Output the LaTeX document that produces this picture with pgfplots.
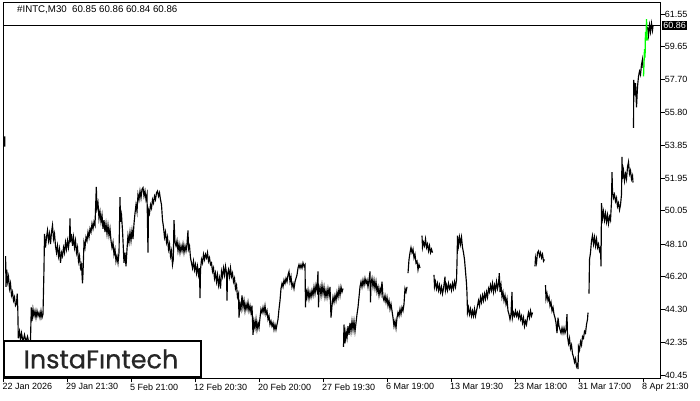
\documentclass[border=0pt]{standalone}
\usepackage{pgfplots}
\pgfplotsset{compat=1.18}
\usepackage{fontspec}
\setmainfont{Liberation Sans}
\newfontfamily\logofont[FakeBold=0.7]{Poppins}
\begin{document}
\begin{tikzpicture}[x=1pt,y=1pt]
\useasboundingbox (0,0) rectangle (700,400);
\begin{axis}[
  at={(3pt,21.7pt)}, anchor=south west,
  scale only axis, width=657.7pt, height=376.3pt,
  xmin=3, xmax=660.7, ymin=40.257, ymax=62.25,
  axis line style={black, line width=0.8pt},
  clip=true,
  tick align=outside, major tick length=4pt,
  tick style={black, line width=0.8pt},
  xtick pos=bottom, ytick pos=right,
  yticklabel pos=right,
  xtick={3.3,67,131,195,259,323,387,451,515,579,643},
  xticklabels={22 Jan 2026,29 Jan 21:30,5 Feb 21:00,12 Feb 20:30,20 Feb 20:00,27 Feb 19:30,6 Mar 19:00,13 Mar 19:30,23 Mar 18:00,31 Mar 17:00,8 Apr 21:30},
  ytick={40.45,42.35,44.30,46.20,48.10,50.05,51.95,53.85,55.80,57.70,59.65,61.55},
  yticklabels={40.45,42.35,44.30,46.20,48.10,50.05,51.95,53.85,55.80,57.70,59.65,61.55},
  xticklabel style={anchor=north west, inner sep=0pt, font=\fontsize{9}{10}\selectfont, xshift=-1pt, yshift=-1pt},
  yticklabel style={anchor=west, inner sep=0pt, font=\fontsize{9}{10}\selectfont, xshift=0pt},
  unbounded coords=jump,
]
\addplot[black, line width=0.7pt, forget plot] coordinates {(3,60.86) (660.7,60.86)};
\addplot[black, line width=1.15pt, mark=none] table {
x y
4.8 54.4
4.8 53.8
nan nan
5.6 47.4
6 45.6
6.8 46.6
7.5 45.9
8.5 46.2
9.5 45.5
10.5 45.8
11.5 45.1
12.5 45.3
13.5 44.8
14.5 45.0
15.5 44.5
16.5 44.6
17.2 45.2
17.8 44.3
18.3 42.6
19.5 43.0
20.5 42.5
21.5 42.9
23 42.4
24.5 42.8
26 42.4
27.5 42.7
29 42.3
30.5 42.5
31.3 44.4
32 43.6
33 44.3
34 43.9
35 44.2
36 43.8
37 44.2
38 43.9
39 44.1
40 43.8
41 44.2
42 43.8
43 44.0
44 46.7
44.5 48.7
45.5 47.9
46.5 48.5
47.5 48.9
48.5 48.3
49.5 48.7
50.5 48.1
51.5 48.8
52.5 49.2
53.5 48.4
54.5 48.7
55.5 48.0
56.5 47.6
57.5 48.0
58.5 47.4
59.5 47.8
60.5 47.0
61.5 47.6
62.5 47.4
63.5 47.9
64.5 47.6
65.5 48.2
66.5 47.8
67.5 48.3
68.5 47.9
69.5 48.4
70 49.6
70.5 48.2
71.5 48.7
72.5 48.0
73.5 48.5
74.5 47.9
75.5 48.3
76.5 47.6
77.5 47.9
78.5 47.1
79.5 47.4
80.5 46.7
81.5 46.9
82.5 45.8
83 46.4
84 48.2
85 47.9
86 48.5
87 48.3
88 48.8
89 48.5
90 49.0
91 48.8
92 49.3
93 49.0
94 49.4
95 49.2
96.3 51.45
97 50.2
98 50.5
99 49.6
100 50.0
101 49.4
102 49.8
103 49.0
104 49.5
105 48.8
106 49.3
107 48.7
108 49.2
109 48.6
110 49.0
111 48.3
112 47.9
113 48.2
114 47.5
115 47.8
116 47.1
117 47.4
118 47.0
119 47.6
120 50.85
120.5 49.4
121.5 49.8
122.5 48.9
123 48.3
124 47.0
125 47.6
126 46.8
127 47.8
128 48.6
129 48.2
130 48.8
131 48.3
132 48.9
133 48.4
134 49.3
135 49.9
136 50.4
137 50.0
138 51.0
139 50.7
140 51.2
141 50.8
142 51.3
143 51.4
144 50.9
145 51.2
146 50.7
147 51.0
148 47.6
148.5 50.1
149.5 49.9
150.5 50.4
151.5 50.2
152.5 50.7
153.5 50.5
154.5 50.9
155.5 50.7
156.5 51.1
157.5 51.2
158.5 50.9
159.5 51.1
160.5 50.7
161.5 50.4
162.5 49.5
163.5 49.1
164.5 48.5
165.5 48.8
166.5 48.2
167.5 48.5
168.5 47.8
169.5 48.1
170.5 47.4
171.5 47.7
172.5 46.9
173.3 47.2
174 49.5
175 48.2
176 48.0
177 48.3
178 47.7
179 48.1
180 47.6
181 48.0
182 47.7
183 48.1
184 47.6
185 48.0
186 47.7
187 48.1
188 48.9
188.5 47.8
189.5 48.0
190.5 47.3
191.5 47.0
192.5 46.7
193.5 47.1
194.5 46.6
195.5 46.9
196.5 46.4
197.5 46.8
198.5 46.3
199.5 46.7
200 44.95
200.5 46.6
201.5 47.2
202.5 47.0
203.5 47.5
204.5 47.2
205.5 47.5
206.5 47.3
207.5 47.6
208.5 47.1
209.5 47.3
210.5 46.9
211.5 47.0
212.5 46.5
213.5 46.7
214.5 46.1
215.5 46.4
216.5 45.9
217.5 46.3
218.5 45.7
219.5 46.1
220.5 45.5
221.5 46.5
222.5 46.2
223.5 46.7
224.5 46.3
225.5 46.8
226.5 46.4
227 44.8
227.5 46.3
228.5 46.6
229.5 46.2
230.5 46.7
231.5 46.2
232.5 46.4
233.5 45.9
234.5 46.1
235.5 45.5
236.5 45.7
237.5 45.0
238.5 45.2
239 43.8
240 44.6
241 44.3
242 45.1
243 44.4
244 44.8
245 44.2
246 44.6
247 44.3
248 44.7
249 44.2
250 44.5
251 44.1
252 44.5
253 42.8
254 43.6
255 43.2
256 43.7
257 43.1
258 43.5
259 43.2
260 43.8
261 44.3
262 44.1
263 44.4
264 44.1
265 44.5
266 44.0
267 44.2
268 43.7
269 43.9
270 43.4
271 43.6
272 43.3
273 43.5
274 43.1
275 43.4
276 43.1
277 43.4
278 43.7
279 44.3
280 44.8
281 45.5
282 45.8
283 45.6
284 46.0
285 45.8
286 46.1
287 45.9
288 46.3
289 46.5
290 45.9
291 46.2
292 45.6
293 45.8
294 45.5
295 45.9
296 46.1
297 46.3
298 46.7
299 46.9
300 46.7
301 46.9
302 46.7
303 47.0
304 46.8
305 46.9
305.5 44.4
306 45.5
307 45.0
308 45.4
309 44.9
310 45.3
311 45.0
312 45.4
313 45.1
314 45.6
315 45.2
316 45.7
317 45.4
318 46.5
318.5 44.4
319 45.3
320 45.6
321 45.1
322 45.7
323 45.2
324 45.6
325 45.0
326 45.4
327 45.0
328 45.5
329 45.1
330 45.6
331 43.8
332 44.5
333 45.0
334 44.7
335 45.1
336 44.8
337 45.3
338 45.0
339 45.5
340 45.1
341 45.6
342 45.3
343 45.5
nan nan
343.5 42.1
344 43.4
345 42.3
346 43.0
347 42.6
348 43.3
349 42.8
350 43.5
351 43.0
352 43.6
353 43.1
354 43.6
355 43.0
356 43.5
357 44.0
358 44.4
359 45.0
360 45.6
361 45.9
362 45.6
363 46.0
364 45.7
365 46.1
366 45.8
367 46.0
368 45.6
369 46.0
370 46.5
370.5 44.7
371 45.8
372 46.1
373 45.6
374 46.0
375 45.5
376 45.9
377 45.3
378 45.6
379 45.1
380 45.5
381 45.2
382 45.9
383 45.0
384 44.8
385 45.1
386 44.7
387 45.0
388 44.5
389 44.8
390 44.3
391 44.6
392 44.2
393 43.8
394 43.3
395 43.6
396 43.2
397 43.8
398 44.1
399 43.9
400 44.3
401 44.0
402 44.4
403 44.2
404 44.6
405 45.5
406 45.3
407 45.6
nan nan
408 46.4
409 47.2
410 47.6
411 47.9
412 47.6
413 47.8
414 47.3
415 47.5
416 47.0
417 47.1
418 46.6
419 46.9
420 46.7
nan nan
422 48.6
422.5 47.9
423.5 48.2
424.5 48.0
425.5 48.4
426.5 47.9
427.5 48.1
428.5 47.7
429.5 48.0
430.5 47.6
431.5 47.8
432.5 47.6
nan nan
434 46.3
434.5 45.6
435.5 45.9
436.5 45.5
437.5 45.8
438.5 45.4
439.5 45.7
440.5 45.3
441.5 45.6
442.5 45.2
443.5 45.5
445 46.2
445.5 45.4
446.5 45.7
447.5 45.4
448.5 45.8
449.5 45.5
450.5 45.7
451.5 45.4
452.5 45.8
453.5 45.5
454.5 45.9
455.5 45.6
456.5 46.0
457 47.0
457.5 48.6
458.5 48.0
459.5 48.5
460.5 48.1
461.5 48.5
462.5 47.9
463.5 47.6
464.5 47.2
465.5 46.5
466.5 45.8
467 45.2
467.5 44.1
468.5 44.4
469.5 44.0
470.5 44.3
471.5 43.9
472.5 44.2
473.5 43.9
474.5 44.3
475.5 43.9
476.5 44.2
477.5 44.5
478.5 44.8
479.5 44.5
480.5 45.0
481.5 44.7
482.5 45.1
483.5 44.8
484.5 45.2
485.5 44.9
486.5 45.3
487.5 45.0
488.5 45.5
489.5 45.3
490.5 45.7
491.5 45.4
492.5 45.8
493.5 45.3
494.5 45.7
495.5 45.4
496.5 45.9
497.5 45.5
498.5 45.8
499.3 46.4
500 45.3
501 45.7
502 45.0
503 45.3
504 44.8
505 45.1
506 44.6
507 44.9
508 44.2
509 44.0
510 43.7
511 44.0
512 45.3
512.5 43.8
513.5 44.1
514.5 43.9
515.5 44.2
516.5 43.9
517.5 44.1
518.5 43.8
519.5 44.1
520.5 43.7
521.5 43.9
522.5 43.5
523.5 43.8
524.5 43.3
525.5 43.6
526.5 43.4
527.5 43.8
528.5 44.1
529.5 43.8
530.5 44.2
531.5 43.9
532.5 44.1
nan nan
535 46.8
535.5 47.3
536.5 47.0
537.5 47.6
538.5 47.7
539.5 47.4
540.5 47.6
541.5 47.3
542.5 47.5
543.5 47.1
544.5 47.2
nan nan
545.5 45.7
546 44.9
547 45.2
548 44.8
549 45.0
550 44.5
551 44.7
552 44.2
553 44.4
554 44.0
555 43.8
556 43.5
557 42.9
558 43.8
559 43.3
560 43.1
561 42.9
562 43.2
563 42.9
564 43.2
565 42.9
566 43.1
567 44.0
567.5 42.7
568.5 42.3
569.5 42.6
570.5 42.0
571.5 42.2
572.5 41.7
573.5 41.5
574.5 41.2
575.5 41.4
576.5 40.95
577.5 41.1
578 40.8
578.5 42.1
579.5 41.9
580.5 42.4
581.5 42.2
582.5 42.7
583.5 42.6
584.5 43.0
585.5 42.9
586.5 43.4
587.5 43.7
588 44.1
nan nan
589 45.2
589.5 47.2
590.5 47.6
591.5 48.3
592.5 48.6
593.5 48.1
594.5 48.5
595.5 48.0
596.5 48.4
597.5 47.9
598.5 48.1
599.5 47.7
600.5 47.9
601 46.8
601.5 50.5
602.5 49.6
603.5 50.0
604.5 49.5
605.5 49.9
606.5 49.4
607.5 49.8
608.5 49.3
609.5 49.7
610.5 49.5
611.5 50.6
612 52.3
612.5 51.2
613.5 50.8
614.5 51.0
615.5 50.6
616.5 50.8
617.5 50.3
618.5 50.5
619.5 50.1
620.5 50.4
621.5 51.0
622 53.2
622.5 51.9
623.5 52.4
624.5 51.8
625.5 52.2
626.5 51.9
627.5 52.6
628.5 52.9
629.5 52.2
630.5 52.4
631.5 51.9
632.5 52.1
633 51.7
nan nan
633.5 54.9
633.8 57.7
634.5 56.8
635.5 57.5
636.5 56.1
637.5 57.3
638.5 57.9
639.5 58.2
640.5 58.0
641.5 58.6
642.5 58.9
643 58.4
nan nan
647.5 60.8
648.5 60.3
649.5 60.9
650.5 60.5
651.5 61.0
652.5 60.6
653 60.86
};
\addplot[green, line width=1.3pt, mark=none] table {
x y
643.5 57.9
644.5 59.5
645 59.0
645.5 60.5
646 60.0
646.5 61.25
647 60.2
647.5 60.0
};
\end{axis}
\node[anchor=west, inner sep=0pt, font=\fontsize{9.7}{11}\selectfont] at (17,390) {\#INTC,M30\ \ 60.85 60.86 60.84 60.86};
\node[anchor=west, fill=black, text=white, inner sep=1.2pt, font=\fontsize{9}{10}\selectfont] at (662,374.3) {60.86};
\draw[line width=2pt, fill=white] (4,22.7) rectangle (201,59);
\node[anchor=center, inner sep=0pt, text=black!85, font=\logofont\fontsize{25.5}{27}\selectfont] at (101,41) {InstaFıntech};
\end{tikzpicture}
\end{document}
